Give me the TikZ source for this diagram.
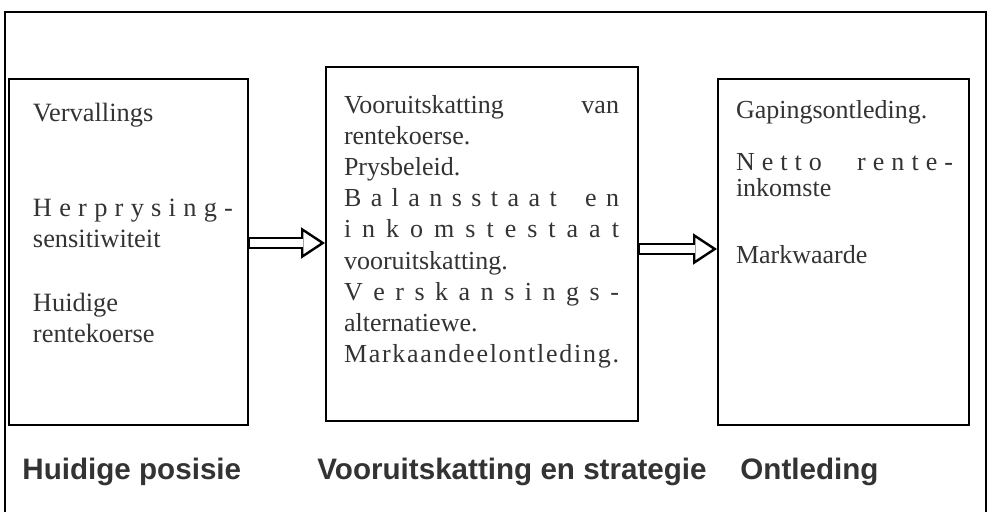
\documentclass[tikz,border=0pt]{standalone}
\usepackage{fontspec}
\setmainfont{Liberation Serif}
\newfontfamily\headfont{Liberation Sans}
\usetikzlibrary{arrows.meta}

\definecolor{ink}{gray}{0.2}
\def\spreadchars#1{\ifx#1\relax\else#1\hfil\expandafter\spreadchars\fi}
\newcommand{\spread}[1]{\makebox[\linewidth][s]{\spreadchars#1\relax\unskip}}
\newcommand{\panelbody}[6]{\parbox[c][#2][t]{#1}{\vspace*{#4}\hspace*{#3}\parbox[t]{#5}{\color{ink}#6}}}

\begin{document}
\begin{tikzpicture}[x=0.5pt,y=-0.5pt,
		panel/.style={draw=black, line width=1pt, inner sep=0pt, anchor=north west},
		heading/.style={anchor=base west, inner sep=0pt, text=ink, font=\headfont\bfseries\fontsize{14.8}{17}\selectfont},
		flow/.style={draw=black, line width=6pt,
			-{Triangle[open, length=12pt, width=15.5pt, line width=1.2pt]},
			postaction={draw=white, line width=3.6pt, arrows=-, shorten <=0.6pt, shorten >=11pt}}]
	\useasboundingbox (0,0) rectangle (989,512);
	\draw [black, line width=0.9pt] (5,520) -- (5,12) -- (986,12) -- (986,520);
	\node [panel] (hp) at (8,78) {\panelbody{119.5pt}{173pt}{12pt}{12.1pt}{100pt}{%
		\fontsize{13.2}{15.8}\selectfont
		Vervallings\\[2\baselineskip]
		\spread{Herprysing-}\\
		sensitiwiteit\\[\baselineskip]
		Huidige\\
		rentekoerse}};
	\node [panel] (vs) at (325,66) {\panelbody{156pt}{177pt}{9pt}{14pt}{137.5pt}{%
		\fontsize{13}{15.6}\selectfont
		\makebox[\linewidth][s]{Vooruitskatting van}\\
		rentekoerse.\\
		Prysbeleid.\\
		\spread{Balansstaat\hfil en}\\
		\spread{inkomstestaat}\\
		vooruitskatting.\\
		\spread{Verskansings-}\\
		alternatiewe.\\
		\spread{Markaandeelontleding.}}};
	\node [panel] (ont) at (717,78) {\panelbody{125.5pt}{173pt}{9pt}{10.6pt}{108.5pt}{%
		\fontsize{13}{13}\selectfont
		Gapingsontleding.\\[\baselineskip]
		\spread{Netto\hfil\hfil rente-}\\
		inkomste\\[20.5pt]
		Markwaarde}};
	\coordinate (a1) at (0,243);
	\coordinate (a2) at (0,249);
	\draw [flow] (hp.east |- a1) -- (vs.west |- a1);
	\draw [flow] (vs.east |- a2) -- (ont.west |- a2);
	\node [heading] (lhp) at (22,480) {Huidige posisie};
	\node [heading] (lvs) at (317,480) {Vooruitskatting en strategie};
	\node [heading] (lont) at (740,480) {Ontleding};
\end{tikzpicture}
\end{document}
